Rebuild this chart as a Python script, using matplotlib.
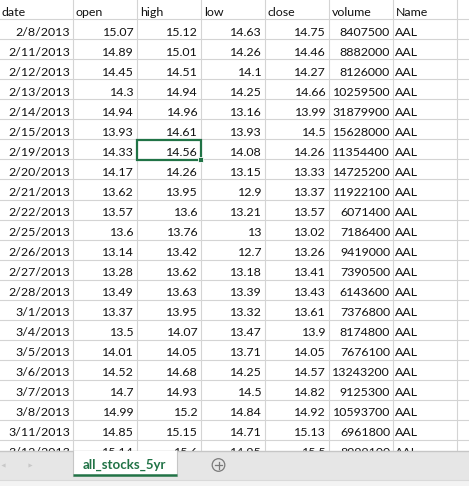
import matplotlib
matplotlib.use("Agg")
import matplotlib.pyplot as plt
from matplotlib.patches import Rectangle, Circle

# ---- data ----
headers = ["date", "open", "high", "low", "close", "volume", "Name"]
dates = ["2/8/2013", "2/11/2013", "2/12/2013", "2/13/2013", "2/14/2013", "2/15/2013",
         "2/19/2013", "2/20/2013", "2/21/2013", "2/22/2013", "2/25/2013", "2/26/2013",
         "2/27/2013", "2/28/2013", "3/1/2013", "3/4/2013", "3/5/2013", "3/6/2013",
         "3/7/2013", "3/8/2013", "3/11/2013", "3/12/2013"]
open_ = [15.07, 14.89, 14.45, 14.3, 14.94, 13.93, 14.33, 14.17, 13.62, 13.57, 13.6, 13.14,
         13.28, 13.49, 13.37, 13.5, 14.01, 14.52, 14.7, 14.99, 14.85, 15.14]
high = [15.12, 15.01, 14.51, 14.94, 14.96, 14.61, 14.56, 14.26, 13.95, 13.6, 13.76, 13.42,
        13.62, 13.63, 13.95, 14.07, 14.05, 14.68, 14.93, 15.2, 15.15, 15.6]
low = [14.63, 14.26, 14.1, 14.25, 13.16, 13.93, 14.08, 13.15, 12.9, 13.21, 13, 12.7,
       13.18, 13.39, 13.32, 13.47, 13.71, 14.25, 14.5, 14.84, 14.71, 14.95]
close = [14.75, 14.46, 14.27, 14.66, 13.99, 14.5, 14.26, 13.33, 13.37, 13.57, 13.02, 13.26,
         13.41, 13.43, 13.61, 13.9, 14.05, 14.57, 14.82, 14.92, 15.13, 15.5]
volume = [8407500, 8882000, 8126000, 10259500, 31879900, 15628000, 11354400, 14725200,
          11922100, 6071400, 7186400, 9419000, 7390500, 6143600, 7376800, 8174800, 7676100,
          13243200, 9125300, 10593700, 6961800, 8999100]
names = ["AAL"] * len(dates)
sheet_name = "all_stocks_5yr"

# ---- layout (pixel space) ----
W, H = 469, 486
col_edges = [-1, 72.5, 136.5, 200.5, 264.5, 328.5, 392.5, 456.5]
row_h = 20
row0_bottom = 19.5
bar_top = 451
grid_c = "#d4d4d4"
green = "#217346"
fs = 8.9

fig = plt.figure(figsize=(W / 100, H / 100), dpi=100)
ax = fig.add_axes([0, 0, 1, 1])
ax.set_xlim(0, W)
ax.set_ylim(H, 0)
ax.axis("off")
fig.patch.set_facecolor("white")

# grid lines
for x in col_edges[1:]:
    ax.plot([x, x], [0, bar_top], color=grid_c, lw=0.8, zorder=1)
nrows = len(dates) + 1
for k in range(nrows + 1):
    y = row0_bottom + row_h * k
    if y < bar_top:
        ax.plot([0, W], [y, y], color=grid_c, lw=0.8, zorder=1)

font = dict(family=["Lato", "DejaVu Sans"], fontsize=fs, color="#111111", zorder=3)

def row_base(i):
    # i = 0 header, 1.. data rows
    return row0_bottom + row_h * i - 3.6

# header
for j, h in enumerate(headers):
    xl = max(col_edges[j], 0) + (1.5 if j == 0 else 3.2)
    ax.text(xl, row_base(0), h, ha="left", va="baseline", **font)

def fmt(v):
    return "{:g}".format(v)

columns = [dates, [fmt(v) for v in open_], [fmt(v) for v in high], [fmt(v) for v in low],
           [fmt(v) for v in close], [str(v) for v in volume]]
for i in range(len(dates)):
    yb = row_base(i + 1)
    for j, col in enumerate(columns):
        ax.text(col_edges[j + 1] - 2.4, yb, col[i], ha="right", va="baseline", **font)
    ax.text(col_edges[6] + 2.4, yb, names[i], ha="left", va="baseline", **font)

# selected cell (2/19 row, high column)
sel_r, sel_c = dates.index("2/19/2013") + 1, 2
x0, x1 = col_edges[sel_c], col_edges[sel_c + 1]
y0 = row0_bottom + row_h * (sel_r - 1)
y1 = y0 + row_h
ax.add_patch(Rectangle((x0, y0), x1 - x0, y1 - y0, fill=False, ec=green, lw=1.6, zorder=5))
ax.add_patch(Rectangle((x1 - 2.5, y1 - 2.5), 5, 5, fc=green, ec="white", lw=0.6, zorder=6))

# bottom sheet-tab bar
ax.add_patch(Rectangle((0, bar_top), W, 29, fc="#e6e6e6", ec="none", zorder=10))
ax.add_patch(Rectangle((0, bar_top + 29), W, H - bar_top - 29, fc="#f3f3f3", ec="none", zorder=10))
ax.plot([0, W], [bar_top + 29, bar_top + 29], color="#d9d9d9", lw=0.8, zorder=11)
ax.plot([0, W], [bar_top, bar_top], color="#c6c6c6", lw=1.0, zorder=11)
# tab
tx0, tx1 = 72.5, 177
ax.add_patch(Rectangle((tx0, bar_top - 0.5), tx1 - tx0, 25, fc="white", ec="none", zorder=12))
ax.plot([tx0, tx0], [bar_top, bar_top + 24.5], color="#c6c6c6", lw=0.8, zorder=13)
ax.plot([tx1, tx1], [bar_top, bar_top + 24.5], color="#c6c6c6", lw=0.8, zorder=13)
ax.plot([tx0, tx1], [bar_top + 24, bar_top + 24], color=green, lw=1.8, zorder=13,
        solid_capstyle="butt")
ax.text((tx0 + tx1) / 2, 468.5, sheet_name, ha="center", va="baseline",
        family=["Lato", "DejaVu Sans"], fontsize=9.5, fontweight="bold", color=green, zorder=14)
# nav arrows
ax.plot([3], [464.5], marker="<", ms=3, color="#c8c8c8", mec="none", zorder=13)
ax.plot([30], [464.5], marker=">", ms=3, color="#c8c8c8", mec="none", zorder=13)
# add-sheet button
ax.add_patch(Circle((218.5, 465), 6.3, fill=False, ec="#7a7a7a", lw=0.9, zorder=13))
ax.plot([215, 222], [465, 465], color="#7a7a7a", lw=0.9, zorder=14)
ax.plot([218.5, 218.5], [461.5, 468.5], color="#7a7a7a", lw=0.9, zorder=14)

fig.savefig("out.png", dpi=100, facecolor="white")
